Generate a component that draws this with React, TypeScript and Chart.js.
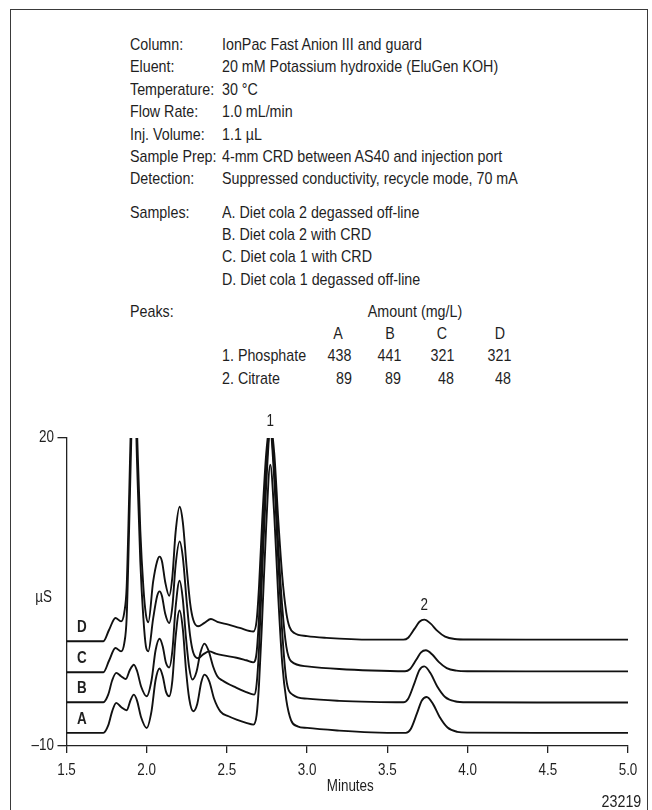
import React, { useEffect, useRef } from "react";
import Chart from "chart.js/auto";

// no condensed face is installed, so Liberation Sans is squeezed horizontally
const FONT = '"Liberation Sans", Arial, sans-serif';
const SQUEEZE = 0.84;
const INK = "#1f1f1f";

// run conditions printed above the chromatogram
const conditionLabels = ["Column:", "Eluent:", "Temperature:", "Flow Rate:", "Inj. Volume:", "Sample Prep:", "Detection:"];
const conditionValues = [
  "IonPac Fast Anion III and guard",
  "20 mM Potassium hydroxide (EluGen KOH)",
  "30 °C",
  "1.0 mL/min",
  "1.1 µL",
  "4-mm CRD between AS40 and injection port",
  "Suppressed conductivity, recycle mode, 70 mA",
];
const sampleLines = [
  "A. Diet cola 2 degassed off-line",
  "B. Diet cola 2 with CRD",
  "C. Diet cola 1 with CRD",
  "D. Diet cola 1 degassed off-line",
];
const sampleLetters = ["A", "B", "C", "D"];
const peakNames = ["1. Phosphate", "2. Citrate"];
const phosphateAmounts = [438, 441, 321, 321];
const citrateAmounts = [89, 89, 48, 48];

const yTickValues = [-10, 20];

// retention time (min) / response (µS)
const traceATimes = [1.5, 1.73, 1.76, 1.785, 1.81, 1.84, 1.875, 1.9, 1.92, 1.94, 1.965, 2.0, 2.03, 2.055, 2.08, 2.1, 2.12, 2.14, 2.16, 2.18, 2.205, 2.225, 2.245, 2.265, 2.29, 2.315, 2.34, 2.36, 2.39, 2.42, 2.46, 2.51, 2.56, 2.62, 2.665, 2.685, 2.7, 2.72, 2.745, 2.77, 2.795, 2.82, 2.845, 2.87, 2.9, 2.94, 3.0, 3.2, 3.4, 3.615, 3.645, 3.685, 3.715, 3.745, 3.785, 3.825, 3.875, 3.935, 4.0, 4.5, 5.0];
const traceAValues = [-8.72, -8.72, -8.0, -6.6, -5.8, -6.2, -6.52, -5.5, -5.0, -5.6, -7.2, -8.24, -6.6, -3.6, -2.45, -3.2, -4.7, -5.16, -3.6, 0.6, 3.2, 1.4, -2.6, -5.4, -6.62, -5.9, -3.8, -3.05, -3.7, -5.4, -6.65, -7.1, -7.43, -7.75, -7.92, -7.0, -4.0, 2.5, 11.5, 17.4, 12.5, 4.5, -2.0, -5.5, -7.5, -8.08, -8.24, -8.5, -8.67, -8.72, -8.37, -6.8, -5.57, -5.22, -5.92, -7.15, -8.2, -8.62, -8.7, -8.72, -8.72];

const traceBTimes = [1.5, 1.73, 1.76, 1.785, 1.81, 1.84, 1.87, 1.895, 1.92, 1.94, 1.965, 2.0, 2.03, 2.055, 2.08, 2.1, 2.12, 2.14, 2.16, 2.18, 2.205, 2.225, 2.245, 2.265, 2.285, 2.31, 2.335, 2.36, 2.385, 2.415, 2.44, 2.47, 2.56, 2.62, 2.67, 2.685, 2.7, 2.72, 2.745, 2.77, 2.795, 2.82, 2.845, 2.87, 2.91, 3.0, 3.2, 3.4, 3.6, 3.63, 3.67, 3.7, 3.73, 3.77, 3.81, 3.86, 3.92, 4.0, 4.5, 5.0];
const traceBValues = [-5.74, -5.74, -5.0, -3.6, -2.88, -3.2, -3.47, -2.6, -2.08, -2.7, -4.2, -5.16, -3.6, -0.7, 0.45, -0.3, -1.9, -2.35, -0.7, 3.5, 6.1, 4.3, 0.5, -2.4, -3.53, -2.8, -0.9, -0.03, -0.7, -2.3, -3.2, -3.6, -4.34, -4.75, -5.0, -4.0, -0.5, 7.0, 15.5, 20.6, 16.0, 8.0, 1.0, -3.5, -5.0, -5.39, -5.6, -5.7, -5.74, -5.39, -3.82, -2.59, -2.24, -2.94, -4.17, -5.22, -5.64, -5.74, -5.76, -5.76];

const traceCTimes = [1.5, 1.73, 1.765, 1.805, 1.84, 1.86, 1.875, 1.89, 1.9, 1.92, 1.94, 1.96, 1.979, 1.995, 2.01, 2.04, 2.065, 2.08, 2.095, 2.115, 2.14, 2.16, 2.18, 2.205, 2.225, 2.25, 2.27, 2.29, 2.32, 2.35, 2.39, 2.43, 2.47, 2.56, 2.62, 2.665, 2.685, 2.7, 2.72, 2.745, 2.77, 2.795, 2.82, 2.845, 2.87, 2.9, 3.0, 3.2, 3.4, 3.61, 3.64, 3.68, 3.71, 3.74, 3.78, 3.82, 3.87, 3.93, 4.0, 4.5, 5.0];
const traceCValues = [-2.82, -2.82, -1.7, -0.45, -0.78, 0.0, 2.5, 11, 17.5, 28, 17.5, 8, 2.5, -0.3, -0.78, 2.4, 4.6, 5.06, 4.6, 2.9, 1.98, 3.6, 7.6, 9.93, 8.4, 3.9, 0.8, -0.9, -1.45, -1.1, -0.78, -1.0, -1.15, -1.4, -1.65, -1.85, -0.9, 2.5, 9.5, 17, 20.8, 17, 9.5, 3.5, -0.3, -1.75, -2.24, -2.5, -2.65, -2.72, -2.52, -1.6, -0.88, -0.68, -1.09, -1.8, -2.41, -2.66, -2.72, -2.73, -2.73];

const traceDTimes = [1.5, 1.73, 1.765, 1.805, 1.84, 1.86, 1.875, 1.89, 1.9, 1.92, 1.94, 1.96, 1.979, 1.995, 2.01, 2.04, 2.065, 2.08, 2.095, 2.115, 2.14, 2.16, 2.18, 2.205, 2.225, 2.25, 2.27, 2.29, 2.32, 2.36, 2.4, 2.44, 2.51, 2.58, 2.665, 2.685, 2.7, 2.72, 2.745, 2.77, 2.795, 2.82, 2.845, 2.87, 2.89, 2.92, 3.0, 3.12, 3.4, 3.6, 3.63, 3.67, 3.7, 3.73, 3.77, 3.81, 3.86, 3.92, 4.0, 4.5, 5.0];
const traceDValues = [0.2, 0.2, 1.3, 2.47, 2.14, 3.0, 5.5, 14, 20.5, 31, 20.5, 11, 5.5, 2.8, 2.06, 6.0, 8.0, 8.45, 8.0, 6.0, 4.64, 6.5, 10.8, 13.3, 11.8, 7.2, 4.0, 2.3, 1.66, 2.0, 2.37, 2.1, 1.82, 1.5, 1.15, 2.2, 5.5, 12, 18.5, 21.5, 18.5, 12, 6.5, 3.0, 1.6, 1.0, 0.7, 0.53, 0.36, 0.36, 0.55, 1.43, 2.1, 2.31, 1.92, 1.24, 0.65, 0.42, 0.37, 0.36, 0.36];

const traces = [
  { name: "A", times: traceATimes, values: traceAValues },
  { name: "B", times: traceBTimes, values: traceBValues },
  { name: "C", times: traceCTimes, values: traceCValues },
  { name: "D", times: traceDTimes, values: traceDValues },
];

// text placed in data coordinates
const peakMarks = [
  { label: "1", t: 2.77, v: 21.6 },
  { label: "2", t: 3.73, v: 3.7 },
];
const traceTags = [
  { label: "D", t: 1.595, v: 1.5 },
  { label: "C", t: 1.595, v: -1.52 },
  { label: "B", t: 1.595, v: -4.44 },
  { label: "A", t: 1.595, v: -7.43 },
];

function squeezedText(ctx: CanvasRenderingContext2D, text: string, px: number, py: number, align: CanvasTextAlign) {
  ctx.save();
  ctx.translate(px, py);
  ctx.scale(SQUEEZE, 1);
  ctx.textAlign = align;
  ctx.fillText(text, 0, 0);
  ctx.restore();
}

// tick labels, axis titles and peak / trace labels in the condensed face
const annotate = {
  id: "annotate",
  afterDraw(chart: any) {
    const { ctx, chartArea } = chart;
    const x = chart.scales.x;
    const y = chart.scales.y;
    ctx.save();
    ctx.fillStyle = INK;
    ctx.textBaseline = "middle";
    ctx.font = `16px ${FONT}`;
    x.ticks.forEach((tk: any) =>
      squeezedText(ctx, Number(tk.value).toFixed(1), x.getPixelForValue(tk.value), chartArea.bottom + 25, "center")
    );
    y.ticks.forEach((tk: any) => {
      const v = Number(tk.value);
      squeezedText(ctx, v < 0 ? `–${-v}` : `${v}`, chartArea.left - 12.5, y.getPixelForValue(v), "right");
    });
    squeezedText(ctx, "Minutes", (chartArea.left + chartArea.right) / 2 + 3, chartArea.bottom + 40.5, "center");
    squeezedText(ctx, "µS", chartArea.left - 23, y.getPixelForValue(4.5), "center");
    peakMarks.forEach((m) => squeezedText(ctx, m.label, x.getPixelForValue(m.t), y.getPixelForValue(m.v), "center"));
    ctx.font = `bold 16px ${FONT}`;
    traceTags.forEach((m) => squeezedText(ctx, m.label, x.getPixelForValue(m.t), y.getPixelForValue(m.v), "center"));
    ctx.restore();
  },
};

const ROW = 22.4;

function Txt(props: { x: number; top: number; align?: "left" | "right" | "center"; size?: number; children: React.ReactNode }): JSX.Element {
  const align = props.align || "left";
  const style: React.CSSProperties = {
    position: "absolute",
    whiteSpace: "nowrap",
    lineHeight: `${ROW}px`,
    top: props.top,
    fontSize: props.size || 17,
  };
  if (align === "left") {
    style.left = props.x;
    style.transformOrigin = "left center";
    style.transform = `scaleX(${SQUEEZE})`;
  } else if (align === "right") {
    style.right = 652 - props.x;
    style.transformOrigin = "right center";
    style.transform = `scaleX(${SQUEEZE})`;
  } else {
    style.left = props.x;
    style.transformOrigin = "center";
    style.transform = `translateX(-50%) scaleX(${SQUEEZE})`;
  }
  return <div style={style}>{props.children}</div>;
}

function Header(): JSX.Element {
  const condTop = 34;
  const sampleTop = 201.5;
  const peakTop = 300.5;
  const amountRight = [351.7, 401, 454, 511];
  const letterCenter = [338.3, 390, 441.7, 500];
  return (
    <>
      {conditionLabels.map((l, i) => (
        <Txt key={l} x={130} top={condTop + i * ROW}>{l}</Txt>
      ))}
      {conditionValues.map((v, i) => (
        <Txt key={v} x={221.5} top={condTop + i * ROW}>{v}</Txt>
      ))}
      <Txt x={130} top={sampleTop}>Samples:</Txt>
      {sampleLines.map((s, i) => (
        <Txt key={s} x={221.5} top={sampleTop + i * ROW}>{s}</Txt>
      ))}
      <Txt x={130} top={peakTop}>Peaks:</Txt>
      <Txt x={415} top={peakTop} align="center">Amount (mg/L)</Txt>
      {sampleLetters.map((s, i) => (
        <Txt key={s} x={letterCenter[i]} top={peakTop + ROW} align="center">{s}</Txt>
      ))}
      {peakNames.map((p, i) => (
        <Txt key={p} x={221.5} top={peakTop + (i + 2) * ROW}>{p}</Txt>
      ))}
      {phosphateAmounts.map((a, i) => (
        <Txt key={"p" + i} x={amountRight[i]} top={peakTop + 2 * ROW} align="right">{a}</Txt>
      ))}
      {citrateAmounts.map((a, i) => (
        <Txt key={"c" + i} x={amountRight[i]} top={peakTop + 3 * ROW} align="right">{a}</Txt>
      ))}
    </>
  );
}

function App(): JSX.Element {
  const chartRef = useRef<HTMLCanvasElement>(null);
  const chartInstance = useRef<Chart<"line"> | null>(null);

  useEffect(() => {
    const ctx = chartRef.current?.getContext("2d");
    if (!ctx) return;
    if (chartInstance.current) chartInstance.current.destroy();

    chartInstance.current = new Chart(ctx, {
      type: "line",
      data: {
        datasets: traces.map((tr) => ({
          label: tr.name,
          data: tr.times.map((t, i) => ({ x: t, y: tr.values[i] })),
          borderColor: "#111",
          borderWidth: 1.9,
          pointRadius: 0,
          fill: false,
          cubicInterpolationMode: "monotone" as const,
        })),
      },
      options: {
        responsive: false,
        animation: false,
        events: [],
        layout: { padding: { top: 438, right: 24, bottom: 0, left: 0 } },
        plugins: { legend: { display: false }, tooltip: { enabled: false } },
        scales: {
          x: {
            type: "linear",
            min: 1.5,
            max: 5,
            afterFit: (s: any) => {
              s.height = 64;
            },
            ticks: { stepSize: 0.5, display: false },
            grid: { drawOnChartArea: false, drawTicks: true, tickLength: 7, color: "#222", lineWidth: 1.3 },
            border: { display: true, color: "#222", width: 1.3 },
          },
          y: {
            min: -10,
            max: 20,
            afterFit: (s: any) => {
              s.width = 66.5;
            },
            afterBuildTicks: (s: any) => {
              s.ticks = yTickValues.map((value) => ({ value }));
            },
            ticks: { display: false },
            grid: { drawOnChartArea: false, drawTicks: true, tickLength: 9, color: "#222", lineWidth: 1.3 },
            border: { display: true, color: "#222", width: 1.3 },
          },
        },
      },
      plugins: [annotate],
    });

    return () => {
      if (chartInstance.current) {
        chartInstance.current.destroy();
        chartInstance.current = null;
      }
    };
  }, []);

  return (
    <div
      style={{
        position: "absolute",
        left: 0,
        top: 0,
        width: 652,
        height: 810,
        overflow: "hidden",
        background: "#fff",
        fontFamily: FONT,
        color: INK,
      }}
    >
      <style>{"body{margin:0}"}</style>
      <div
        style={{
          position: "absolute",
          left: 10,
          top: 9,
          width: 638,
          height: 840,
          boxSizing: "border-box",
          border: "1.5px solid #3a3a3a",
        }}
      />
      <Header />
      <canvas ref={chartRef} width={652} height={810} style={{ position: "absolute", left: 0, top: 0 }} />
      <Txt x={641} top={790.5} align="right">23219</Txt>
    </div>
  );
}

export default App;
